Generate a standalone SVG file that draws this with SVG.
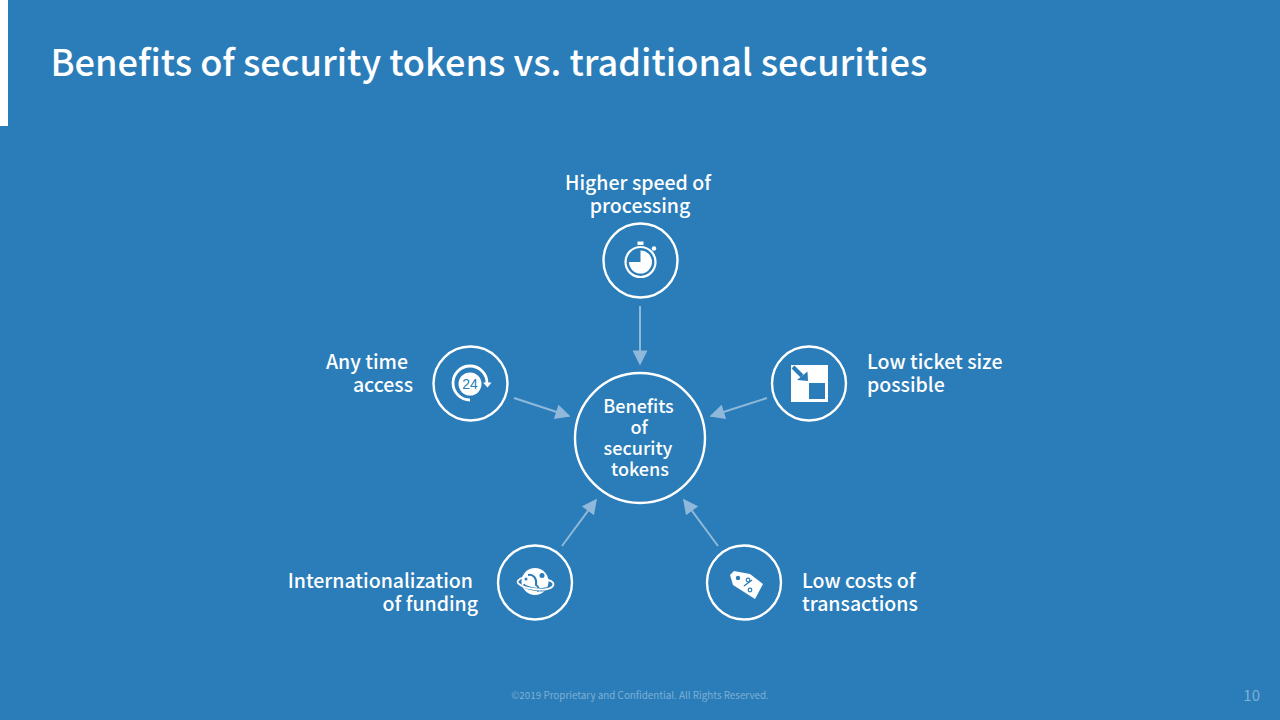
<svg xmlns="http://www.w3.org/2000/svg" width="1280" height="720" viewBox="0 0 1280 720">
<style>
text{font-family:"Noto Sans CJK JP","Noto Sans",sans-serif;fill:#fff;font-weight:500}
.l{font-size:19.500px}
.e{text-anchor:end}
.m{text-anchor:middle}
.c{font-size:18px;text-anchor:middle}
.ring{fill:none;stroke:#fff;stroke-width:2.400}
.con{stroke:#8fb8da;stroke-width:2;fill:none;marker-end:url(#a)}
.w{fill:#fff}
.b{fill:#2a7db8}
.bs{fill:none;stroke:#2a7db8}
</style>
<defs><marker id="a" viewBox="0 0 10 10" refX="9" refY="5" markerWidth="8" markerHeight="7.500" orient="auto" markerUnits="strokeWidth"><path d="M0 0L10 5L0 10Z" fill="#8fb8da"/></marker></defs>
<rect width="1280" height="720" fill="#2a7db8"/>
<rect width="8" height="126" fill="#fff"/>
<text id="title" x="50.500" y="76" font-size="36.150">Benefits of security tokens vs. traditional securities</text>
<g id="connectors">
<path class="con" d="M640 306V364"/>
<path class="con" d="M514 398L569 416"/>
<path class="con" d="M767 398L711 416"/>
<path class="con" d="M562 546L596 500"/>
<path class="con" d="M718 546L684 500"/>
</g>
<g id="center"><circle class="ring" cx="640" cy="438" r="65"/>
<text class="c"><tspan x="638.500" y="413">Benefits</tspan><tspan x="639" y="434">of</tspan><tspan x="638" y="455">security</tspan><tspan x="640" y="476">tokens</tspan></text></g>
<g id="speed"><circle class="ring" cx="640.500" cy="260.500" r="37"/>
<text class="l m"><tspan x="638" y="190">Higher speed of</tspan><tspan x="640" y="213">processing</tspan></text>
<circle cx="640.500" cy="262" r="15" fill="none" stroke="#fff" stroke-width="2.200"/>
<path d="M640.500 250.500A11.500 11.500 0 1 1 629 262H640.500Z" class="w"/>
<rect x="637.500" y="241.500" width="6" height="3.500" class="w"/><circle cx="654" cy="248.500" r="2.200" class="w"/></g>
<g id="access"><circle class="ring" cx="470.500" cy="383.500" r="37"/>
<text class="l e"><tspan x="408" y="369">Any time</tspan><tspan x="413" y="392">access</tspan></text>
<circle cx="470" cy="384" r="11.500" class="w"/>
<path d="M470 400A17 17 0 1 1 487 383" fill="none" stroke="#fff" stroke-width="2.800"/>
<path d="M483 382.500H491.500L487.500 387.500Z" class="w"/>
<text x="470" y="389" font-size="14" class="m" style="fill:#2a7db8;font-family:'Liberation Sans',sans-serif;font-weight:400">24</text></g>
<g id="ticket"><circle class="ring" cx="809" cy="383.500" r="37"/>
<text class="l"><tspan x="867" y="369">Low ticket size</tspan><tspan x="867" y="392">possible</tspan></text>
<rect x="791" y="365" width="37" height="37" class="w"/>
<rect x="809" y="383" width="16" height="16" class="b"/>
<path d="M793 367L802 376" stroke="#2a7db8" stroke-width="4" fill="none"/><path d="M808 381L797 380L807.500 371.500Z" class="b"/></g>
<g id="funding"><circle class="ring" cx="535" cy="582.500" r="37"/>
<text class="l e"><tspan x="473" y="588">Internationalization</tspan><tspan x="478" y="611">of funding</tspan></text>
<circle cx="535" cy="581.500" r="13.500" class="w"/>
<path d="M528 575C534 574 537 579 536 585C539 587 540 590 537 591" class="bs" stroke-width="2"/>
<circle cx="542" cy="575.500" r="2.500" class="b"/><circle cx="526" cy="579" r="1.500" class="b"/>
<path d="M523 585C528 589 544 592 552 587" class="bs" stroke-width="3.500"/>
<path d="M524 577C518 579 516 582 519 584C525 589 546 592 552 587C555 584 553 581 548 580" fill="none" stroke="#fff" stroke-width="1.800"/></g>
<g id="costs"><circle class="ring" cx="744" cy="582.500" r="37"/>
<text class="l"><tspan x="802" y="588">Low costs of</tspan><tspan x="802" y="611">transactions</tspan></text>
<path d="M730 575L734 571L750 574L763 584L755 599L733 585Z" class="w"/>
<circle cx="738" cy="578" r="2.200" class="b"/>
<path d="M744 586L752 580" stroke="#2a7db8" stroke-width="1.400" fill="none"/><circle cx="748" cy="580" r="1.800" class="bs" stroke-width="1.200"/><circle cx="750" cy="590" r="1.800" class="bs" stroke-width="1.200"/></g>
<text id="footer" x="640" y="699" font-size="9.850" class="m" style="fill:#7fb0d6;font-weight:400">©2019 Proprietary and Confidential. All Rights Reserved.</text>
<text id="page" x="1260" y="701" font-size="15" class="e" style="fill:#7fb0d6;font-weight:400">10</text>
</svg>
